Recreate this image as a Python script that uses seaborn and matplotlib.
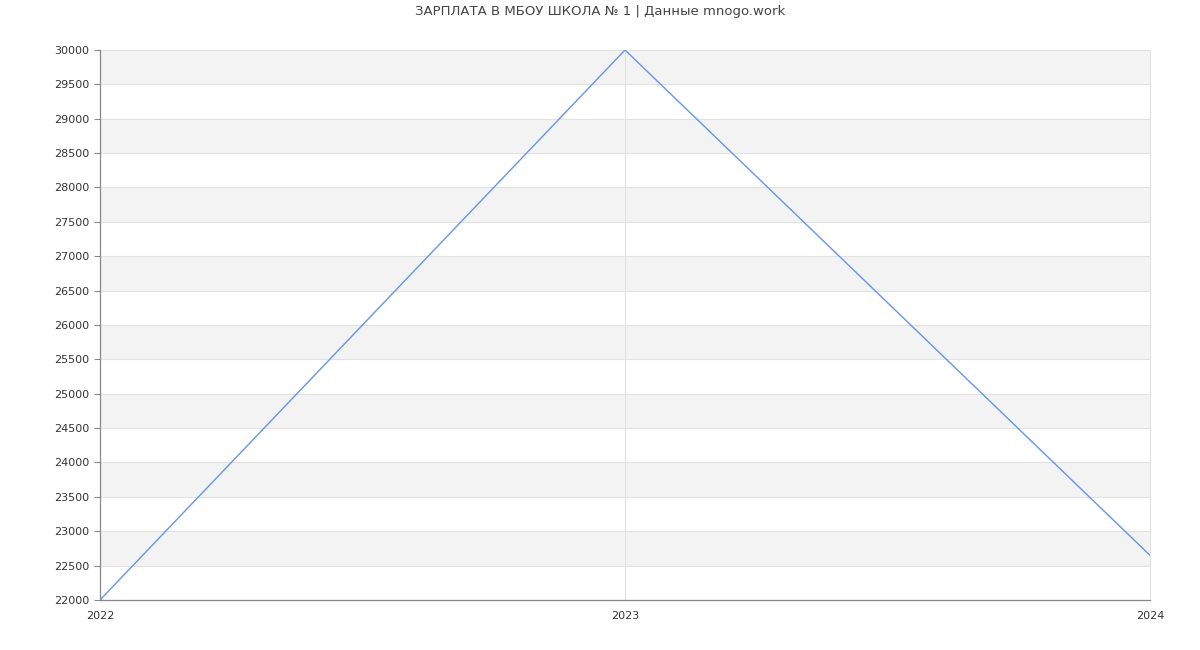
import matplotlib
matplotlib.use("Agg")
import matplotlib.pyplot as plt
import seaborn as sns
import pandas as pd
import numpy as np

years = [2022, 2023, 2024]
salary = [22000, 30000, 22650]
title = "ЗАРПЛАТА В МБОУ ШКОЛА № 1 | Данные mnogo.work"

sns.set_style("white")
plt.rcParams['font.family'] = ['DejaVu Sans']

df = pd.DataFrame({"year": years, "salary": salary})

fig = plt.figure(figsize=(12, 6.5), dpi=100)
ax = fig.add_axes([100/1200, 50/650, 1050/1200, 550/650])

ymin, ymax, step = 22000, 30000, 500
yticks = np.arange(ymin, ymax + step, step)
for lo in yticks[1:-1:2]:
    ax.axhspan(lo, lo + step, color="#f3f3f3", zorder=0, lw=0)
for t in yticks:
    ax.axhline(t, color="#e2e2e2", lw=0.8, zorder=1)
ax.axvline(2023, color="#e2e2e2", lw=0.8, zorder=1)

sns.lineplot(data=df, x="year", y="salary", ax=ax, color="#6495ed", lw=1.0, zorder=3)

ax.set_xlim(years[0], years[-1])
ax.set_ylim(ymin, ymax)
ax.set_yticks(yticks)
ax.set_yticklabels([str(int(t)) for t in yticks])
ax.set_xticks(years)
ax.set_xticklabels([str(y) for y in years])
ax.set_xlabel("")
ax.set_ylabel("")

ax.tick_params(axis="y", length=4, width=0.8, color="#888888", labelsize=8, labelcolor="#333333", pad=4, left=True)
ax.tick_params(axis="x", length=0, labelsize=8, labelcolor="#333333", pad=8)

for s in ["left", "bottom"]:
    ax.spines[s].set_color("#888888")
    ax.spines[s].set_linewidth(0.9)
for s in ["right"]:
    ax.spines[s].set_color("#e2e2e2")
    ax.spines[s].set_linewidth(0.8)
ax.spines["top"].set_visible(False)

fig.text(0.5, 1 - 12/650, title, ha="center", va="center", fontsize=9.5, color="#444444")

fig.savefig("out.png", dpi=100)
